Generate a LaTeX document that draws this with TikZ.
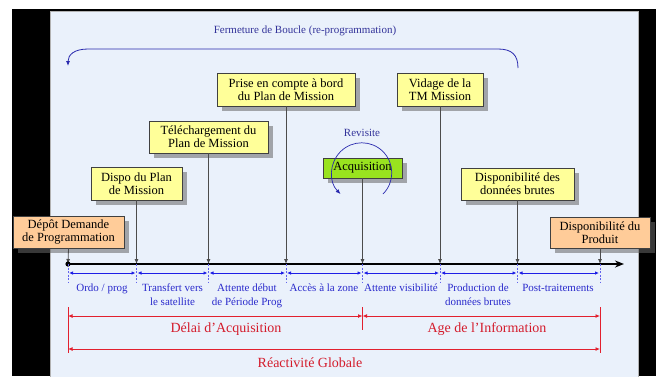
\documentclass[tikz,border=0pt]{standalone}
\usepackage{fontspec}
\setmainfont{Liberation Serif}
\usetikzlibrary{arrows.meta,shadows}
\definecolor{panel}{HTML}{EAF1FB}
\definecolor{boxyel}{HTML}{FFFF99}
\definecolor{boxor}{HTML}{FFCC99}
\definecolor{boxgr}{HTML}{99E31F}
\definecolor{navy}{HTML}{33339A}
\definecolor{lblue}{HTML}{2A2ACC}
\definecolor{dimblue}{HTML}{1E1EE6}
\definecolor{myred}{HTML}{E2202E}
\definecolor{redtxt}{HTML}{D41C2C}
\tikzset{
  box/.style={draw=black!75, line width=0.6pt, inner sep=0pt, align=center,
    font={\fontsize{12.5}{13}\selectfont},
    general shadow={shadow xshift=5pt, shadow yshift=-5pt, fill=black!60, opacity=0.55}},
  ybox/.style={box, fill=boxyel},
  obox/.style={box, fill=boxor},
  drop/.style={draw=black!70, line width=0.8pt, -{Latex[length=5pt,width=4pt]}},
  dim/.style={dimblue, line width=0.9pt, {Latex[length=4pt,width=3.5pt]}-{Latex[length=4pt,width=3.5pt]}, shorten <=1pt, shorten >=1pt},
  dimtick/.style={dimblue!70, line width=0.5pt, dash pattern=on 2pt off 1.5pt},
  lab/.style={lblue, align=center, anchor=north, inner sep=0pt, font={\fontsize{11}{14}\selectfont}},
  rdim/.style={myred, line width=0.9pt, {Latex[length=4.5pt,width=4pt]}-{Latex[length=4.5pt,width=4pt]}},
  rbar/.style={myred, line width=0.8pt},
  rlab/.style={redtxt, inner sep=0pt, font={\fontsize{14}{16}\selectfont}}
}
\begin{document}
\begin{tikzpicture}[x=1pt,y=-1pt]
\useasboundingbox (0,0) rectangle (656,376);
\fill[white] (0,0) rectangle (656,376);
\fill[black] (12,9) rectangle (656,376);
\fill[panel, draw=black!30, line width=0.4pt] (50,11) rectangle (638,377);

% loop-closure arrow
\node[navy, inner sep=0pt, font={\fontsize{11}{13}\selectfont}] (ferm) at (305,31) {Fermeture de Boucle (re-programmation)};
\coordinate (fbR) at (518,68);
\coordinate (fbL) at (68,66);
\draw[navy!80!blue, line width=0.8pt, -{Latex[length=5pt,width=4pt]}]
  (fbR) .. controls (518,55) and (512,49) .. (498,49) -- (88,49)
  .. controls (74,49) and (68,55) .. (fbL);

% timeline coordinates
\coordinate (t1) at (68,264);
\coordinate (t2) at (136.5,264);
\coordinate (t3) at (208.5,264);
\coordinate (t4) at (286,264);
\coordinate (t5) at (362.5,264);
\coordinate (t6) at (440,264);
\coordinate (t7) at (517.5,264);
\coordinate (t8) at (600,264);
\coordinate (tend) at (624,264);

% boxes
\node[obox, minimum width=111pt, minimum height=32pt] (dep) at (68.5,232) {Dépôt Demande\\de Programmation};
\node[ybox, minimum width=91pt, minimum height=33pt] (dispo) at (136.5,183.5) {Dispo du Plan\\de Mission};
\node[ybox, minimum width=119pt, minimum height=32pt] (tele) at (208.5,137) {Téléchargement du\\Plan de Mission};
\node[ybox, minimum width=138pt, minimum height=33pt] (prise) at (286,89.5) {Prise en compte à bord\\du Plan de Mission};
\node[ybox, minimum width=86pt, minimum height=33pt] (vid) at (440,89.5) {Vidage de la\\TM Mission};
\node[ybox, minimum width=113pt, minimum height=32pt] (brut) at (517.5,184) {Disponibilité des\\données brutes};
\node[obox, minimum width=100pt, minimum height=31pt] (prod) at (600,232.5) {Disponibilité du\\Produit};
\node[box, fill=boxgr, minimum width=79pt, minimum height=20pt] (acq) at (362.5,168) {Acquisition};

% drop lines
\draw[drop] (dep.south) -- (t1);
\draw[drop] (dispo.south) -- (t2);
\draw[drop] (tele.south) -- (t3);
\draw[drop] (prise.south) -- (t4);
\draw[drop] (acq.south) -- (t5);
\draw[drop] (vid.south) -- (t6);
\draw[drop] (brut.south) -- (t7);
\draw[drop] (prod.south) -- (t8);

% revisit loop
\node[navy, inner sep=0pt, font={\fontsize{11}{13}\selectfont}] (rev) at (362,133) {Revisite};
\coordinate (revs) at (383,194);
\draw[navy!80!blue, line width=0.7pt, -{Latex[length=5pt,width=4pt]}] (revs) arc[start angle=-45, end angle=225, radius=30pt];

% timeline
\draw[black, line width=1.6pt, -{Stealth[length=9pt,width=7pt]}] (t1) -- (tend);
\fill[black] (t1) circle (2.6pt);

% blue segments
\foreach \i/\x in {1/68,2/136.5,3/208.5,4/286,5/362.5,6/440,7/517.5,8/600}{
  \coordinate (d\i) at (\x,273);
  \coordinate (e\i) at (\x,283);
}
\foreach \i in {1,...,8}{ \draw[dimtick] (t\i) -- (e\i); }
\draw[dim] (d1) -- (d2);
\draw[dim] (d2) -- (d3);
\draw[dim] (d3) -- (d4);
\draw[dim] (d4) -- (d5);
\draw[dim] (d5) -- (d6);
\draw[dim] (d6) -- (d7);
\draw[dim] (d7) -- (d8);

\node[lab] (l1) at (102,284) {Ordo / prog};
\node[lab] (l2) at (172.5,284) {Transfert vers\\le satellite};
\node[lab] (l3) at (247,284) {Attente début\\de Période Prog};
\node[lab] (l4) at (324,284) {Accès à la zone};
\node[lab] (l5) at (401,284) {Attente visibilité};
\node[lab] (l6) at (478,284) {Production de\\données brutes};
\node[lab] (l7) at (558,284) {Post-traitements};

% red dimensions
\coordinate (r1a) at (68,307); \coordinate (r1b) at (68,353);
\coordinate (r2a) at (362.5,307); \coordinate (r2b) at (362.5,330);
\coordinate (r3a) at (600,307); \coordinate (r3b) at (600,353);
\draw[rbar] (r1a) -- (r1b);
\draw[rbar] (r2a) -- (r2b);
\draw[rbar] (r3a) -- (r3b);
\coordinate (p1) at (68,316); \coordinate (p2) at (362.5,316); \coordinate (p3) at (600,316);
\coordinate (q1) at (68,349); \coordinate (q3) at (600,349);
\draw[rdim] (p1) -- (p2);
\draw[rdim] (p2) -- (p3);
\draw[rdim] (q1) -- (q3);
\node[rlab] (delai) at (226,329) {Délai d’Acquisition};
\node[rlab] (age) at (487,329) {Age de l’Information};
\node[rlab] (reac) at (310,363) {Réactivité Globale};
\end{tikzpicture}
\end{document}
